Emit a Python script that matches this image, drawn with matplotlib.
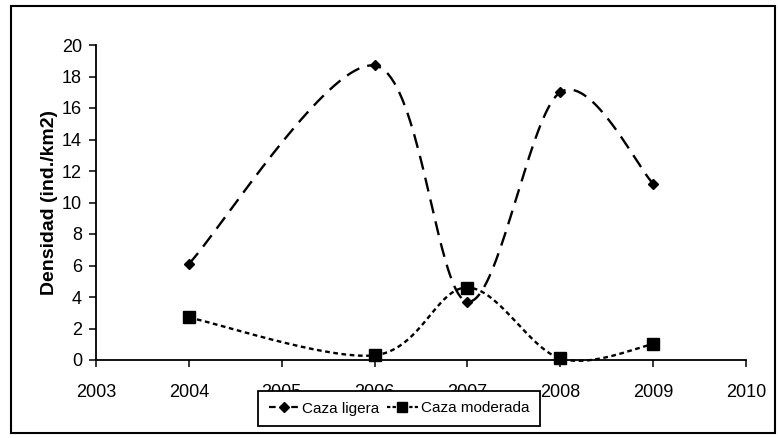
import matplotlib
matplotlib.use("Agg")
import matplotlib.pyplot as plt
import numpy as np
from matplotlib.patches import Rectangle
from matplotlib.lines import Line2D

years = [2004, 2006, 2007, 2008, 2009]
caza_ligera = [6.1, 18.7, 3.7, 17.0, 11.2]
caza_moderada = [2.7, 0.3, 4.6, 0.1, 1.0]
series_labels = ["Caza ligera", "Caza moderada"]
y_label = "Densidad (ind./km2)"
x_ticks = list(range(2003, 2011))
y_ticks = list(range(0, 21, 2))

plt.rcParams['font.family'] = ['Liberation Sans', 'DejaVu Sans']

fig = plt.figure(figsize=(7.78, 4.38), dpi=100)
ax = fig.add_axes([96/778, 78/438, 650/778, 315/438])
ax.set_xlim(2003, 2010)
ax.set_ylim(0, 20)
ax.set_xticks(x_ticks)
ax.set_yticks(y_ticks)
for s in ['top', 'right']:
    ax.spines[s].set_visible(False)
for s in ['left', 'bottom']:
    ax.spines[s].set_linewidth(1.3)
ax.tick_params(axis='both', direction='out', length=5, width=1.1, labelsize=13)
ax.tick_params(axis='x', pad=12)
ax.tick_params(axis='y', pad=5)
ax.set_ylabel(y_label, fontsize=14, fontweight='bold', labelpad=3)


def smooth(xs, ys, n=40):
    # Excel-like smoothed line: Catmull-Rom Bezier in display space
    pts = ax.transData.transform(np.column_stack([xs, ys]))
    m = len(pts)
    out = [pts[0]]
    for i in range(m - 1):
        p0 = pts[i - 1] if i > 0 else pts[i]
        p1 = pts[i]
        p2 = pts[i + 1]
        p3 = pts[i + 2] if i + 2 < m else pts[i + 1]
        c1 = p1 + (p2 - p0) / 6.0
        c2 = p2 - (p3 - p1) / 6.0
        t = np.linspace(0, 1, n)[1:, None]
        b = ((1 - t) ** 3) * p1 + 3 * ((1 - t) ** 2) * t * c1 + 3 * (1 - t) * t ** 2 * c2 + t ** 3 * p2
        out.extend(b)
    out = np.array(out)
    d = ax.transData.inverted().transform(out)
    return d[:, 0], d[:, 1]

sx, sy = smooth(years, caza_ligera)
ax.plot(sx, sy, color='black', lw=1.7, dashes=(6, 3.5), clip_on=False)
ax.plot(years, caza_ligera, ls='none', marker='D', ms=5.5, color='black', clip_on=False)

sx, sy = smooth(years, caza_moderada)
ax.plot(sx, sy, color='black', lw=1.7, dashes=(2, 1.5), clip_on=False)
ax.plot(years, caza_moderada, ls='none', marker='s', ms=8, color='black', clip_on=False)

handles = [
    Line2D([], [], color='black', lw=1.6, dashes=(3, 2), marker='D', ms=5),
    Line2D([], [], color='black', lw=1.6, dashes=(1.5, 1), marker='s', ms=7.5),
]
leg = fig.legend(handles, series_labels, loc='center', bbox_to_anchor=(399/778, 1 - 408.5/438),
                 ncol=2, frameon=True, fancybox=False, edgecolor='black', fontsize=11,
                 handlelength=2.0, handletextpad=0.2, columnspacing=0.5,
                 borderpad=0.7, borderaxespad=0, framealpha=1)
leg.get_frame().set_linewidth(1.3)
leg.set_zorder(10)

fig.patches.append(Rectangle((11/778, 1 - 433/438), 764/778, 427/438, transform=fig.transFigure,
                             fill=False, edgecolor='black', lw=1.5))

fig.savefig('out.png', dpi=100)
